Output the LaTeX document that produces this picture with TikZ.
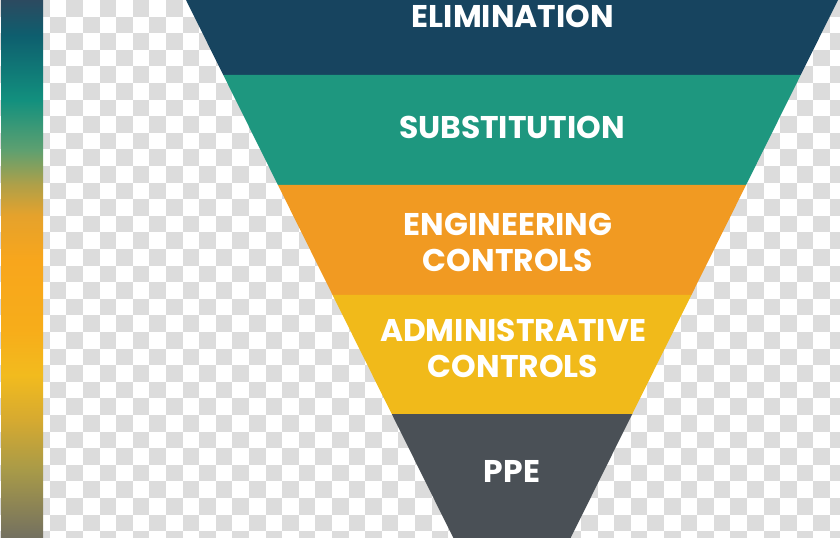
\documentclass[tikz,border=0pt]{standalone}
\usepackage{fontspec}
\newfontfamily\labelfont{Poppins}
\definecolor{elimblue}{HTML}{17445F}
\definecolor{substgreen}{HTML}{1E977F}
\definecolor{engorange}{HTML}{F19A22}
\definecolor{adminyellow}{HTML}{F1BA1A}
\definecolor{ppegrey}{HTML}{4A5056}
\definecolor{checkgrey}{HTML}{DCDCDC}
\definecolor{barA}{HTML}{2C4A60}
\definecolor{barB}{HTML}{0E5E6E}
\definecolor{barC}{HTML}{12907E}
\definecolor{barD}{HTML}{5EA070}
\definecolor{barE}{HTML}{B0A048}
\definecolor{barF}{HTML}{E5A22C}
\definecolor{barG}{HTML}{F8A61C}
\definecolor{barH}{HTML}{F7AD1A}
\definecolor{barI}{HTML}{F2BB1E}
\definecolor{barJ}{HTML}{D6AA30}
\definecolor{barK}{HTML}{A89A48}
\definecolor{barL}{HTML}{737060}
\pgfdeclareverticalshading{hazardbar}{100bp}{color(0bp)=(barL); color(25bp)=(barL);
  color(31.3bp)=(barK); color(36bp)=(barJ); color(40.15bp)=(barI); color(44.3bp)=(barH);
  color(50.8bp)=(barG); color(55bp)=(barF); color(57.8bp)=(barE); color(61.06bp)=(barD);
  color(65.7bp)=(barC); color(71.75bp)=(barB); color(75bp)=(barA); color(100bp)=(barA)}
\tikzset{
  level/.style={text=white, align=center, inner sep=0pt,
    font=\labelfont\bfseries\fontsize{31.5}{37}\selectfont},
}
\begin{document}
\begin{tikzpicture}[x=1bp, y=-1bp]
    \useasboundingbox (0,0) rectangle (840,538);
    % transparency checkerboard
    \fill[white] (0,0) rectangle (840,538);
    \begin{scope}
    \clip (0,0) rectangle (840,538);
    \foreach \i in {0,...,50}
    {
        \foreach \j in {0,...,32}
        {
            \pgfmathtruncatemacro\chk{mod(\i+\j,2)}
            \ifnum\chk=0
                \fill[checkgrey] (16.6*\i,16.6*\j) rectangle ++(16.6,16.6);
            \fi
        }
    }
    \end{scope}
    % gradient bar
    \shade[shading=hazardbar] (1,0) rectangle (43,538);
    % bands of the inverted triangle
    \foreach \ytop/\ybot/\col in {0/75/elimblue, 75/185/substgreen, 185/295/engorange, 295/414/adminyellow, 414/538/ppegrey}
    {
        \fill[\col] (186+0.497*\ytop,\ytop) -- (838-0.497*\ytop,\ytop)
            -- (838-0.497*\ybot,\ybot) -- (186+0.497*\ybot,\ybot) -- cycle;
    }
    \node[level] (elim) at (513,16.5) {ELIMINATION};
    \node[level] (subst) at (512,127) {SUBSTITUTION};
    \node[level] (eng) at (508,242.5) {ENGINEERING\\CONTROLS};
    \node[level] (admin) at (513,348.5) {ADMINISTRATIVE\\CONTROLS};
    \node[level] (ppe) at (512,471) {PPE};
\end{tikzpicture}
\end{document}
